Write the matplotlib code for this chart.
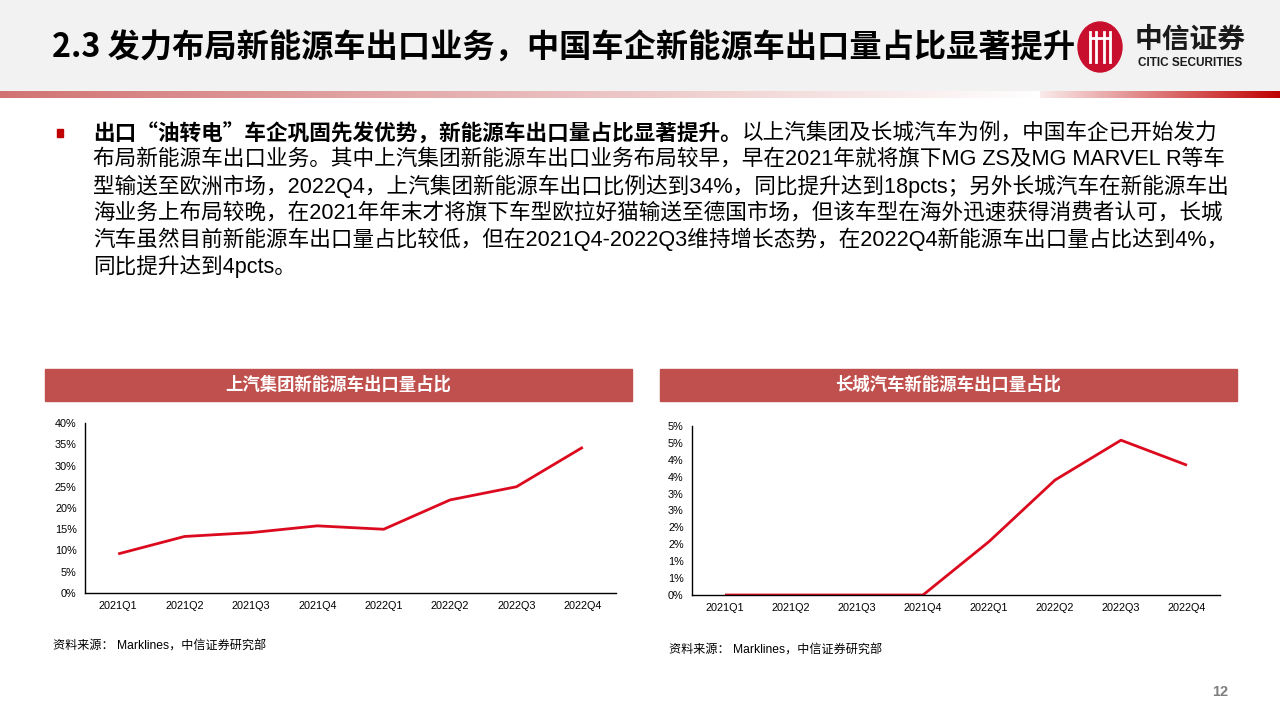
import math
import numpy as np
import matplotlib
matplotlib.use("Agg")
from matplotlib import pyplot as plt
from matplotlib.patches import Rectangle, Ellipse
from matplotlib.ticker import FuncFormatter, MultipleLocator

plt.rcParams['font.family'] = ['Liberation Sans', 'Noto Sans CJK SC', 'DejaVu Sans']

# dados
quarters = ['2021Q1', '2021Q2', '2021Q3', '2021Q4', '2022Q1', '2022Q2', '2022Q3', '2022Q4']
saic_share = [9.2, 13.3, 14.2, 15.8, 15.0, 21.9, 25.0, 34.3]   # %
gwm_share = [0.0, 0.0, 0.0, 0.0, 1.58, 3.40, 4.58, 3.84]      # %

title = "2.3 发力布局新能源车出口业务，中国车企新能源车出口量占比显著提升"
left_title = "上汽集团新能源车出口量占比"
right_title = "长城汽车新能源车出口量占比"
source = "资料来源： Marklines，中信证券研究部"
body_bold = "出口“油转电”车企巩固先发优势，新能源车出口量占比显著提升。"
body_lines = [
    "以上汽集团及长城汽车为例，中国车企已开始发力",
    "布局新能源车出口业务。其中上汽集团新能源车出口业务布局较早，早在2021年就将旗下MG ZS及MG MARVEL R等车",
    "型输送至欧洲市场，2022Q4，上汽集团新能源车出口比例达到34%，同比提升达到18pcts；另外长城汽车在新能源车出",
    "海业务上布局较晚，在2021年年末才将旗下车型欧拉好猫输送至德国市场，但该车型在海外迅速获得消费者认可，长城",
    "汽车虽然目前新能源车出口量占比较低，但在2021Q4-2022Q3维持增长态势，在2022Q4新能源车出口量占比达到4%，",
    "同比提升达到4pcts。",
]

RED_LINE = '#dc0a1e'
BAND = '#c0504d'
CJK = ['Noto Sans CJK SC', 'DejaVu Sans']

W, H = 1280, 720
fig = plt.figure(figsize=(12.8, 7.2), dpi=100)
fig.patch.set_facecolor('white')

# camada de fundo em pixels
bg = fig.add_axes([0, 0, 1, 1])
bg.set_xlim(0, W)
bg.set_ylim(H, 0)
bg.axis('off')

bg.add_patch(Rectangle((0, 0), W, 90, color='#f2f2f2', zorder=0))

# barra em degrade
grad = np.ones((1, W, 3))
for x in range(W):
    if x < 1040:
        a = 0.72 * (1 - x / 1040)
        c = np.array([192, 60, 60]) / 255
    else:
        a = 0.08 + 0.92 * (x - 1040) / (W - 1040)
        c = np.array([192, 0, 0]) / 255
    grad[0, x] = (1 - a) * np.ones(3) + a * c
bg.imshow(grad, extent=(0, W, 98, 91), aspect='auto', zorder=1)
bg.set_xlim(0, W)
bg.set_ylim(H, 0)

bg.text(52, 48, title, fontsize=23.2, fontweight='bold', family=CJK,
        va='center', ha='left', color='black')

# logo
bg.add_patch(Ellipse((1100, 47), 44, 50, color='#c8102e', zorder=2))
for dx in (-10, -4, 4, 10):
    bg.plot([1100 + dx, 1100 + dx], [32, 62], color='white', lw=2, zorder=3)
bg.plot([1090, 1110], [38, 38], color='white', lw=2, zorder=3)
bg.text(1190, 40, "中信证券", fontsize=20, fontweight='bold', family=CJK,
        ha='center', va='center', color='#1a1a1a')
bg.text(1190, 63, "CITIC SECURITIES", fontsize=8.5, fontweight='bold',
        ha='center', va='center', color='#1a1a1a')

# texto do corpo
bg.add_patch(Rectangle((57, 129), 6, 8, color='#c00000'))
fs_body = 15.55
y0 = 133
step = 26.6
t = bg.text(93, y0, body_bold, fontsize=fs_body, fontweight='bold', family=CJK,
            va='center', ha='left', color='black')
r = fig.canvas.get_renderer()
bb = t.get_window_extent(renderer=r)
bg.text(bb.x1, y0, body_lines[0], fontsize=fs_body, va='center', ha='left', color='black')
for i, line in enumerate(body_lines[1:]):
    bg.text(93, y0 + step * (i + 1), line, fontsize=fs_body, va='center',
            ha='left', color='black')

# faixas dos titulos dos graficos
bg.add_patch(Rectangle((45, 369), 587, 32, color=BAND))
bg.add_patch(Rectangle((660, 369), 577, 32, color=BAND))
bg.text(338, 385, left_title, fontsize=12.5, fontweight='bold', color='white',
        ha='center', va='center', family=CJK)
bg.text(948, 385, right_title, fontsize=12.5, fontweight='bold', color='white',
        ha='center', va='center', family=CJK)

bg.text(53, 647, source, fontsize=8.7, ha='left', va='center')
bg.text(669, 651, source, fontsize=8.7, ha='left', va='center')
bg.text(1220, 692, "12", fontsize=10.5, fontweight='bold', color='#7f7f7f',
        ha='center', va='center')


def pix_axes(x0, x1, ytop, ybot):
    return fig.add_axes([x0 / W, (H - ybot) / H, (x1 - x0) / W, (ybot - ytop) / H])


def style(ax, vals, ymax, step_, fmt):
    ax.plot(range(len(quarters)), vals, color=RED_LINE, lw=2.0, solid_capstyle='butt')
    ax.set_xlim(-0.5, len(quarters) - 0.5)
    ax.set_ylim(0, ymax)
    ax.yaxis.set_major_locator(MultipleLocator(step_))
    ax.yaxis.set_major_formatter(FuncFormatter(fmt))
    ax.set_xticks(range(len(quarters)))
    ax.set_xticklabels(quarters)
    for s in ('top', 'right'):
        ax.spines[s].set_visible(False)
    for s in ('left', 'bottom'):
        ax.spines[s].set_linewidth(1.0)
        ax.spines[s].set_color('black')
    ax.tick_params(axis='x', length=0, labelsize=7.8, pad=6)
    ax.tick_params(axis='y', length=0, labelsize=7.8, pad=6)
    ax.patch.set_alpha(0)


axl = pix_axes(85, 616, 423, 593)
style(axl, saic_share, 40, 5, lambda v, p: f"{int(round(v))}%")

axr = pix_axes(692, 1220, 426, 595)
style(axr, gwm_share, 5, 0.5, lambda v, p: f"{math.floor(v + 0.5 + 1e-9)}%")

fig.savefig("out.png", dpi=100)
